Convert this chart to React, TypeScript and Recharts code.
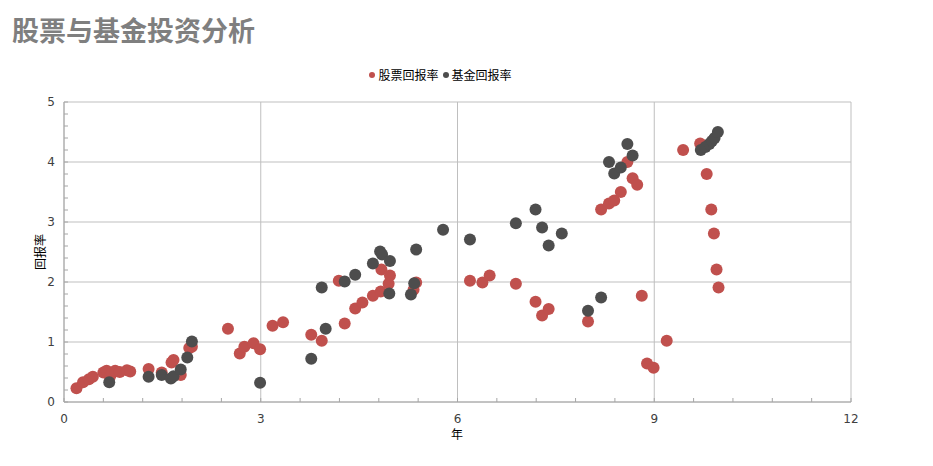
import React from 'react';
import { ScatterChart, Scatter, XAxis, YAxis, ReferenceLine, ReferenceArea } from 'recharts';

// [年, 回报率]
const stockPoints: [number, number][] = [
  [0.19, 0.23], [0.29, 0.33], [0.38, 0.38], [0.44, 0.42], [0.6, 0.49], [0.65, 0.52], [0.7, 0.42],
  [0.73, 0.48], [0.78, 0.52], [0.85, 0.5], [0.96, 0.53], [1.01, 0.51], [1.29, 0.55], [1.49, 0.49],
  [1.64, 0.66], [1.67, 0.7], [1.78, 0.45], [1.91, 0.9], [1.95, 0.92], [2.5, 1.22], [2.68, 0.81],
  [2.75, 0.92], [2.89, 0.98], [2.99, 0.88], [3.18, 1.27], [3.34, 1.33], [3.77, 1.12], [3.93, 1.02],
  [4.19, 2.02], [4.28, 1.31], [4.44, 1.56], [4.55, 1.66], [4.71, 1.77], [4.83, 1.84], [4.84, 2.21],
  [4.97, 2.11], [4.95, 1.97], [5.33, 1.87], [5.37, 1.99], [6.19, 2.02], [6.38, 1.99], [6.49, 2.11],
  [6.89, 1.97], [7.19, 1.67], [7.29, 1.44], [7.39, 1.55], [7.99, 1.34], [8.19, 3.21], [8.31, 3.31],
  [8.39, 3.36], [8.49, 3.5], [8.59, 4.0], [8.67, 3.73], [8.74, 3.62], [8.81, 1.77], [8.89, 0.64],
  [8.99, 0.57], [9.19, 1.02], [9.44, 4.2], [9.7, 4.31], [9.8, 3.8], [9.87, 3.21], [9.91, 2.81],
  [9.95, 2.21], [9.98, 1.91],
];

const fundPoints: [number, number][] = [
  [0.69, 0.33], [1.29, 0.42], [1.49, 0.45], [1.63, 0.39], [1.67, 0.43], [1.78, 0.54], [1.88, 0.74],
  [1.95, 1.01], [2.99, 0.32], [3.77, 0.72], [3.93, 1.91], [3.99, 1.22], [4.28, 2.01], [4.44, 2.12],
  [4.71, 2.31], [4.82, 2.51], [4.85, 2.46], [4.97, 2.35], [4.96, 1.81], [5.29, 1.79], [5.34, 1.98],
  [5.37, 2.54], [5.78, 2.87], [6.19, 2.71], [6.89, 2.98], [7.19, 3.21], [7.29, 2.91], [7.39, 2.61],
  [7.59, 2.81], [7.99, 1.52], [8.19, 1.74], [8.31, 4.0], [8.39, 3.81], [8.49, 3.91], [8.59, 4.3],
  [8.67, 4.11], [9.71, 4.2], [9.78, 4.25], [9.84, 4.3], [9.88, 4.35], [9.92, 4.4], [9.97, 4.5],
];

const seriesNames = ['股票回报率', '基金回报率'];
const seriesColors = ['#c0504d', '#4d4d4d'];

const xMajorTicks = [0, 3, 6, 9, 12];
const xTicks = [0, 0.6, 1.2, 1.8, 2.4, 3, 3.6, 4.2, 4.8, 5.4, 6, 6.6, 7.2, 7.8, 8.4, 9, 9.6, 10.2, 10.8, 11.4, 12];
const yMajorTicks = [0, 1, 2, 3, 4, 5];
const yTicks = [0, 0.2, 0.4, 0.6, 0.8, 1, 1.2, 1.4, 1.6, 1.8, 2, 2.2, 2.4, 2.6, 2.8, 3, 3.2, 3.4, 3.6, 3.8, 4, 4.2, 4.4, 4.6, 4.8, 5];

const toData = (pts: [number, number][]) => pts.map(([x, y]) => ({ x, y }));

const font = '"DejaVu Sans", "Noto Sans CJK SC", sans-serif';
const isMajor = (v: number, list: number[]) => list.some((m) => Math.abs(m - v) < 1e-6);

// axis line sits tickMargin away from the tick text anchor
const renderXTick = (props: any) => {
  const { x, y, payload } = props;
  const axisY = y - 2;
  return (
    <g key={'xt' + payload.value}>
      <line x1={x} y1={axisY} x2={x} y2={axisY - 4} stroke="#a6a6a6" />
      {isMajor(payload.value, xMajorTicks) && (
        <text x={x} y={axisY + 21} textAnchor="middle" fontSize={12} fill="#404040" fontFamily={font}>
          {payload.value}
        </text>
      )}
    </g>
  );
};

const renderYTick = (props: any) => {
  const { x, y, payload } = props;
  const axisX = x + 2;
  return (
    <g key={'yt' + payload.value}>
      <line x1={axisX} y1={y} x2={axisX + 4} y2={y} stroke="#a6a6a6" />
      {isMajor(payload.value, yMajorTicks) && (
        <text x={axisX - 9} y={y + 4} textAnchor="end" fontSize={12} fill="#404040" fontFamily={font}>
          {payload.value}
        </text>
      )}
    </g>
  );
};

const dot = (color: string) => (props: any) => <circle cx={props.cx} cy={props.cy} r={6} fill={color} />;

export default function App() {
  return (
    <div style={{ position: 'relative', width: 933, height: 466, margin: -8, background: '#fff' }}>
      <div
        style={{
          position: 'absolute', left: 12, top: 12, fontSize: 27, fontWeight: 'bold', color: '#7f7f7f',
          fontFamily: '"Noto Sans CJK SC", sans-serif', lineHeight: '36px',
        }}
      >
        股票与基金投资分析
      </div>
      <div
        style={{
          position: 'absolute', left: 0, top: 66, width: 885, display: 'flex', justifyContent: 'center',
          fontSize: 12, fontFamily: '"Noto Sans CJK SC", sans-serif', color: '#000', lineHeight: '18px',
        }}
      >
        {seriesNames.map((name, i) => (
          <span key={name} style={{ display: 'flex', alignItems: 'center', marginRight: 4 }}>
            <span style={{ width: 6, height: 6, borderRadius: 3, background: seriesColors[i], marginRight: 3 }} />
            {name}
          </span>
        ))}
      </div>
      <div style={{ position: 'absolute', left: 0, top: 0 }}>
        <ScatterChart width={933} height={466} margin={{ top: 102, right: 82, bottom: 34, left: 14 }}>
          <ReferenceArea x1={0} x2={12} y1={0} y2={5} fill="none" stroke="#bfbfbf" ifOverflow="visible" />
          {[1, 2, 3, 4].map((v) => (
            <ReferenceLine key={'h' + v} y={v} stroke="#bfbfbf" />
          ))}
          {[3, 6, 9].map((v) => (
            <ReferenceLine key={'v' + v} x={v} stroke="#bfbfbf" />
          ))}
          <XAxis
            type="number" dataKey="x" domain={[0, 12]} ticks={xTicks} height={30} tickSize={0} tickMargin={2}
            tick={renderXTick} tickLine={false} axisLine={{ stroke: '#a6a6a6' }} interval={0} allowDataOverflow
          />
          <YAxis
            type="number" dataKey="y" domain={[0, 5]} ticks={yTicks} width={50} tickSize={0} tickMargin={2}
            tick={renderYTick} tickLine={false} axisLine={{ stroke: '#a6a6a6' }} interval={0} allowDataOverflow
          />
          <Scatter name={seriesNames[0]} data={toData(stockPoints)} fill={seriesColors[0]} shape={dot(seriesColors[0])} isAnimationActive={false} />
          <Scatter name={seriesNames[1]} data={toData(fundPoints)} fill={seriesColors[1]} shape={dot(seriesColors[1])} isAnimationActive={false} />
        </ScatterChart>
      </div>
      <div style={{ position: 'absolute', left: 451, top: 425, fontSize: 12, fontFamily: '"Noto Sans CJK SC", sans-serif' }}>年</div>
      <div
        style={{
          position: 'absolute', left: 20, top: 244, fontSize: 12, fontFamily: '"Noto Sans CJK SC", sans-serif',
          transform: 'rotate(-90deg)', transformOrigin: 'center', width: 40, textAlign: 'center', lineHeight: '16px',
        }}
      >
        回报率
      </div>
    </div>
  );
}
